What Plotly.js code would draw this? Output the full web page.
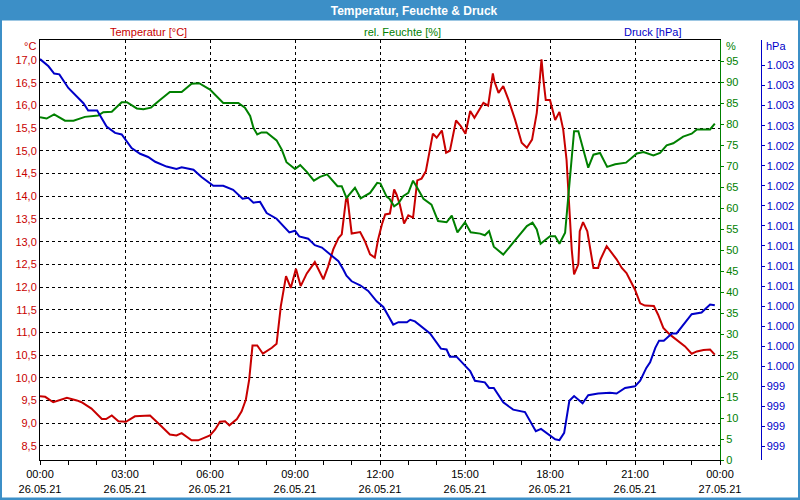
<!DOCTYPE html>
<html>
<head>
<meta charset="utf-8">
<script src="https://cdn.plot.ly/plotly-3.0.1.min.js"></script>
<style>
  html, body {margin: 0; padding: 0; background: #fff;}
  #chart {width: 800px; height: 500px;}
</style>
</head>
<body>
<div id="chart"></div>
<script>
// readings 26.05.21 (times hh:mm)
const tempTimes = ['00:00','00:11','00:28','00:39','00:57','01:18','01:28','01:49','02:11','02:20','02:32','02:46',
  '03:02','03:21','03:53','04:11','04:35','04:49','05:00','05:21','05:35','06:00','06:11','06:21','06:32','06:41',
  '06:57','07:07','07:16','07:23','07:30','07:40','07:52','08:11','08:21','08:30','08:41','08:51','09:02','09:12',
  '09:25','09:42','10:00','10:10','10:21','10:32','10:39','10:48','10:51','11:00','11:18','11:28','11:39','11:49',
  '11:56','12:04','12:11','12:21','12:30','12:35','12:42','12:51','13:00','13:10','13:19','13:28','13:37','13:52',
  '14:00','14:11','14:20','14:28','14:41','14:51','15:01','15:11','15:20','15:39','15:49','15:59','16:02','16:11',
  '16:21','16:32','16:46','17:00','17:11','17:22','17:32','17:39','17:42','17:46','17:51','18:00','18:11','18:20',
  '18:28','18:35','18:41','18:46','18:51','19:00','19:03','19:10','19:19','19:26','19:32','19:42','19:47','20:00',
  '20:21','20:32','20:42','21:00','21:11','21:21','21:40','21:49','22:00','22:14','22:28','22:46','23:00','23:11',
  '23:25','23:39','23:49'];
const tempVals = [9.59,9.58,9.46,9.50,9.56,9.50,9.46,9.32,9.09,9.09,9.17,9.04,
  9.03,9.15,9.17,8.99,8.75,8.73,8.78,8.62,8.62,8.73,8.86,9.03,9.04,8.95,
  9.09,9.26,9.52,9.96,10.71,10.71,10.53,10.66,10.75,11.58,12.24,11.98,12.40,12.02,
  12.30,12.55,12.17,12.45,12.83,13.08,13.16,13.93,13.97,13.18,13.21,13.01,12.72,12.65,
  13.05,13.38,13.60,13.62,14.15,14.04,13.82,13.40,13.58,13.53,14.35,14.39,14.55,15.38,
  15.29,15.45,14.96,15.00,15.67,15.55,15.38,15.88,15.73,16.06,16.00,16.71,16.54,16.28,
  16.43,16.13,15.69,15.18,15.07,15.25,15.84,16.65,17.02,16.57,16.12,16.12,15.68,15.86,
  15.47,14.81,13.78,12.83,12.28,12.50,13.23,13.43,13.23,12.83,12.42,12.42,12.61,12.90,
  12.61,12.42,12.31,11.94,11.64,11.59,11.58,11.39,11.10,10.95,10.83,10.69,10.53,10.58,
  10.61,10.62,10.51];

const humTimes = ['00:00','00:14','00:30','00:53','01:11','01:35','02:03','02:14','02:32','02:53','03:04','03:25',
  '03:39','03:55','04:14','04:35','05:00','05:21','05:37','06:00','06:28','07:00','07:14','07:25','07:32','07:40',
  '07:49','08:00','08:21','08:32','08:42','09:00','09:11','09:25','09:40','09:53','10:08','10:30','10:39','10:49',
  '11:07','11:19','11:39','11:54','12:01','12:14','12:20','12:30','12:39','12:49','13:00','13:10','13:17','13:32',
  '13:49','14:03','14:21','14:32','14:44','15:00','15:12','15:32','15:42','15:51','16:01','16:21','16:49','17:11',
  '17:23','17:32','17:40','18:00','18:11','18:20','18:32','18:41','18:46','18:51','19:00','19:10','19:21','19:32',
  '19:46','20:01','20:18','20:41','21:04','21:18','21:39','21:53','22:07','22:21','22:42','23:00','23:11','23:39',
  '23:49'];
const humVals = [81.6,81.3,82.3,80.8,80.8,81.7,82.0,82.8,82.9,85.2,85.2,83.7,
  83.5,83.9,85.7,87.6,87.6,89.6,89.7,88.2,85.0,85.0,83.9,81.9,79.1,77.5,
  78.0,78.0,76.1,73.9,70.9,69.3,70.2,68.6,66.5,67.4,68.0,65.2,65.2,62.4,
  64.8,62.3,63.6,66.0,65.8,62.7,62.2,60.4,61.1,62.8,63.6,66.5,65.2,62.2,
  60.8,56.9,56.6,58.2,54.2,56.6,54.2,53.9,53.5,54.5,50.8,48.9,52.7,55.7,
  56.5,54.9,51.5,53.3,53.3,51.5,54.1,66.0,72.3,78.3,78.3,73.9,69.6,72.7,
  73.1,69.8,70.4,70.8,73.0,73.3,72.5,73.1,74.9,75.4,77.0,77.7,78.7,78.7,
  80.1];

const presTimes = ['00:00','00:18','00:30','00:41','01:00','01:32','01:42','02:01','02:21','02:39','02:53','03:14',
  '03:32','03:49','04:04','04:28','04:49','05:00','05:25','05:42','06:07','06:28','06:49','07:09','07:21','07:32',
  '07:46','08:00','08:21','08:48','09:00','09:09','09:28','09:42','09:57','10:14','10:32','10:42','10:49','11:00',
  '11:18','11:35','11:53','12:07','12:28','12:39','12:57','13:04','13:14','13:46','14:09','14:21','14:28','14:42',
  '15:11','15:21','15:42','15:51','16:01','16:21','16:42','17:07','17:30','17:41','17:53','18:11','18:20','18:30',
  '18:41','18:51','19:09','19:21','19:42','20:07','20:21','20:39','21:00','21:11','21:24','21:32','21:43','21:51',
  '22:01','22:18','22:28','22:42','23:00','23:21','23:39','23:49'];
const presVals = [1003.33,1003.24,1003.15,1003.14,1002.97,1002.78,1002.69,1002.69,1002.49,1002.41,1002.39,1002.22,
  1002.15,1002.11,1002.05,1001.99,1001.96,1001.98,1001.95,1001.86,1001.75,1001.75,1001.70,1001.59,1001.60,1001.54,
  1001.55,1001.41,1001.34,1001.17,1001.19,1001.12,1001.09,1001.01,1000.98,1000.90,1000.81,1000.71,1000.63,1000.56,
  1000.51,1000.44,1000.31,1000.24,1000.02,1000.05,1000.05,1000.08,1000.06,999.91,999.72,999.71,999.62,999.62,
  999.44,999.32,999.30,999.23,999.23,999.05,998.96,998.93,998.69,998.72,998.67,998.59,998.58,998.67,
  999.07,999.13,999.04,999.14,999.16,999.17,999.16,999.23,999.25,999.32,999.48,999.55,999.73,999.82,
  999.82,999.91,999.91,1000.02,1000.15,1000.17,1000.27,1000.26];

const humTicks = [0,5,10,15,20,25,30,35,40,45,50,55,60,65,70,75,80,85,90,95];
const presTicks = [998.5,998.75,999,999.25,999.5,999.75,1000,1000.25,1000.5,1000.75,
  1001,1001.25,1001.5,1001.75,1002,1002.25,1002.5,1002.75,1003,1003.25];

const day = t => '2021-05-26 ' + t;
const RED = '#c80000', GREEN = '#008000', BLUE = '#0000c8', FRAME = '#3c8fc7';
const FONT = 'Liberation Sans, Arial, sans-serif';

// pixel -> paper helpers (plot area 40..770 x 40..460)
const px = x => (x - 40) / 730;
const py = y => (460 - y) / 420;

const traces = [
  {x: tempTimes.map(day), y: tempVals, yaxis: 'y', mode: 'lines', line: {color: RED, width: 2}},
  {x: humTimes.map(day), y: humVals, yaxis: 'y2', mode: 'lines', line: {color: GREEN, width: 2}},
  {x: presTimes.map(day), y: presVals, yaxis: 'y3', mode: 'lines', line: {color: BLUE, width: 2}}
];

const note = (text, x, y, color, anchor) => ({
  text, x: px(x), y: py(y), xref: 'paper', yref: 'paper', showarrow: false,
  xanchor: anchor, yanchor: 'middle', font: {family: FONT, size: 11, color}
});

const layout = {
  width: 800, height: 500,
  margin: {l: 40, r: 30, t: 40, b: 40},
  paper_bgcolor: '#fff',
  plot_bgcolor: '#fff',
  separators: ',.',
  showlegend: false,
  font: {family: FONT, size: 11, color: '#000'},
  title: {
    text: '<b>Temperatur, Feuchte & Druck</b>',
    xref: 'container', x: 0.5175, xanchor: 'center',
    yref: 'container', y: 0.979, yanchor: 'middle',
    font: {family: FONT, size: 12, color: '#fff'}
  },
  xaxis: {
    type: 'date', domain: [0, 680 / 730],
    range: ['2021-05-26 00:00', '2021-05-27 00:00'],
    tick0: '2021-05-26 00:00', dtick: 3 * 3600000,
    tickformat: '%H:%M<br>%d.%m.%y',
    ticks: 'outside', ticklen: 4, tickcolor: '#000',
    minor: {dtick: 3600000, ticks: 'outside', ticklen: 4, tickcolor: '#000', showgrid: false},
    showline: true, linecolor: '#000', linewidth: 1, mirror: true,
    showgrid: true, gridcolor: '#000', gridwidth: 1, griddash: 'dot',
    zeroline: false, tickfont: {color: '#000', size: 11}
  },
  yaxis: {
    range: [8.187, 17.445], tick0: 8.5, dtick: 0.5, tickformat: '.1f',
    ticks: '', showline: true, linecolor: '#000', linewidth: 1,
    showgrid: true, gridcolor: '#000', gridwidth: 1, griddash: 'dot',
    zeroline: false, tickfont: {color: RED, size: 11}
  },
  yaxis2: {
    overlaying: 'y', side: 'right', anchor: 'x',
    range: [0, 100], tickvals: humTicks,
    ticks: 'outside', ticklen: 3, tickcolor: GREEN,
    showline: true, linecolor: GREEN, linewidth: 1,
    showgrid: false, zeroline: false, tickfont: {color: GREEN, size: 11}
  },
  yaxis3: {
    overlaying: 'y', side: 'right', anchor: 'free', position: px(760.5),
    range: [998.332, 1003.568], tickvals: presTicks, tickformat: ',.0f',
    ticks: 'outside', ticklen: 3, tickcolor: BLUE,
    showline: true, linecolor: BLUE, linewidth: 1,
    showgrid: false, zeroline: false, tickfont: {color: BLUE, size: 11}
  },
  annotations: [
    note('Temperatur [°C]', 148, 32, RED, 'center'),
    note('rel. Feuchte [%]', 402, 32, GREEN, 'center'),
    note('Druck [hPa]', 652, 32, BLUE, 'center'),
    note('°C', 38, 46, RED, 'right'),
    note('%', 724, 46, GREEN, 'left'),
    note('hPa', 764, 46, BLUE, 'left')
  ],
  shapes: [
    // window frame
    {type: 'rect', xref: 'paper', yref: 'paper', x0: px(0), x1: px(800), y0: py(20.5), y1: py(0), fillcolor: FRAME, line: {width: 0}, layer: 'above'},
    {type: 'rect', xref: 'paper', yref: 'paper', x0: px(0), x1: px(2), y0: py(500), y1: py(0), fillcolor: FRAME, line: {width: 0}, layer: 'above'},
    {type: 'rect', xref: 'paper', yref: 'paper', x0: px(798), x1: px(800), y0: py(500), y1: py(0), fillcolor: FRAME, line: {width: 0}, layer: 'above'},
    {type: 'rect', xref: 'paper', yref: 'paper', x0: px(0), x1: px(800), y0: py(500), y1: py(497.5), fillcolor: FRAME, line: {width: 0}, layer: 'above'}
  ]
};

Plotly.newPlot('chart', traces, layout, {displayModeBar: false, staticPlot: true});
</script>
</body>
</html>
